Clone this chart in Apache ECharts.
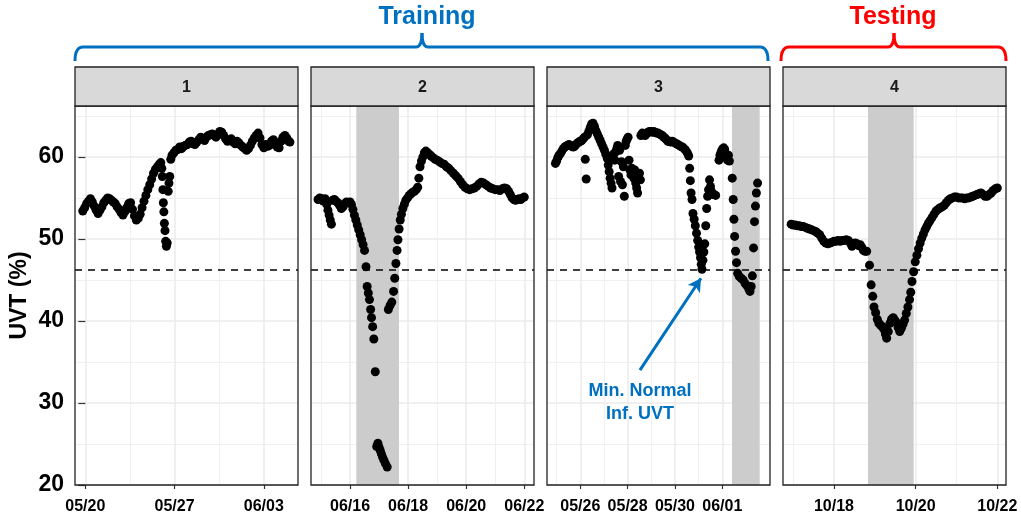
<!DOCTYPE html>
<html><head><meta charset="utf-8">
<script src="https://cdn.jsdelivr.net/npm/echarts@6/dist/echarts.min.js"></script>
<style>html,body{margin:0;padding:0;background:#fff}#c{width:1021px;height:517px}</style>
</head><body><div id="c"></div>
<script>
// ---------- data (x = days from the first labelled date of each panel, y = UVT %) ----------
const panelNames = ['1', '2', '3', '4'];
const groupNames = ['Training', 'Testing'];
const annotationText = 'Min. Normal\nInf. UVT';
const thresholdUVT = 46.2;
const yTicks = [20, 30, 40, 50, 60];
const yMinor = [25, 35, 45, 55, 65];

const p1Ticks = [0, 7, 14], p1Labels = ['05/20', '05/27', '06/03'], p1Minor = [3.5, 10.5];
const p2Ticks = [0, 2, 4, 6], p2Labels = ['06/16', '06/18', '06/20', '06/22'], p2Minor = [-1, 1, 3, 5];
const p3Ticks = [0, 2, 4, 6], p3Labels = ['05/26', '05/28', '05/30', '06/01'], p3Minor = [-1, 1, 3, 5, 7];
const p4Ticks = [0, 2, 4], p4Labels = ['10/18', '10/20', '10/22'], p4Minor = [-1, 1, 3];

const p2Shade = [0.217, 1.687];
const p3Shade = [6.41, 7.58];
const p4Shade = [0.833, 1.952];

const panel1 = [
[-0.20,53.4],[-0.05,53.8],[0.10,54.3],[0.25,54.6],[0.40,54.9],[0.55,54.5],[0.70,54.0],[0.85,53.5],[1.00,53.1],[1.15,53.5],
[1.30,53.9],[1.45,54.4],[1.60,54.7],[1.75,55.0],[1.90,54.9],[2.05,54.7],[2.20,54.5],[2.35,54.3],[2.50,53.9],[2.65,53.6],
[2.80,53.2],[2.95,52.9],[3.10,53.3],[3.25,53.8],[3.40,54.3],[3.55,54.4],[3.70,53.6],[3.85,52.8],[4.00,52.3],[4.15,52.5],
[4.30,53.0],[4.45,53.8],[4.60,54.6],[4.75,55.3],[4.90,56.0],[5.05,56.6],[5.20,57.3],[5.35,58.0],[5.50,58.5],[5.65,58.8],
[5.80,59.1],[5.92,59.3],[6.00,58.6],[6.04,57.6],[6.08,56.0],[6.12,54.4],[6.16,53.3],[6.20,51.9],[6.25,51.0],[6.30,49.7],
[6.36,49.1],[6.42,49.5],[6.50,55.8],[6.56,56.8],[6.62,57.6],[6.70,59.7],[6.80,60.2],[6.95,60.5],[7.10,60.8],[7.25,60.9],
[7.40,61.2],[7.55,61.0],[7.70,61.3],[7.85,61.4],[8.00,61.5],[8.15,61.8],[8.30,61.9],[8.45,61.6],[8.60,61.5],[8.75,61.8],
[8.90,62.1],[9.05,62.4],[9.20,62.2],[9.35,62.0],[9.50,62.4],[9.65,62.6],[9.80,62.7],[9.95,62.8],[10.10,62.6],[10.25,62.4],
[10.40,62.8],[10.55,63.1],[10.70,63.0],[10.85,62.6],[11.00,62.2],[11.15,61.9],[11.30,62.1],[11.45,62.2],[11.60,61.8],[11.75,61.6],
[11.90,61.9],[12.05,61.7],[12.20,61.4],[12.35,61.2],[12.50,61.0],[12.65,60.8],[12.80,61.0],[12.95,61.4],[13.10,61.9],[13.25,62.3],
[13.40,62.6],[13.55,62.9],[13.70,62.3],[13.85,61.5],[14.00,61.1],[14.15,61.5],[14.30,61.3],[14.45,61.4],[14.60,61.9],[14.75,62.1],
[14.90,61.7],[15.05,61.2],[15.20,61.1],[15.35,61.9],[15.50,62.4],[15.65,62.6],[15.80,62.3],[15.95,61.9],[16.05,61.8]
];

const panel2 = [
[-1.10,54.8],[-1.04,55.0],[-0.98,54.9],[-0.92,54.6],[-0.86,54.9],[-0.80,54.2],[-0.76,53.5],[-0.72,52.9],[-0.68,52.3],[-0.64,51.8],
[-0.60,54.7],[-0.54,54.8],[-0.48,54.6],[-0.42,54.4],[-0.36,54.1],[-0.30,53.7],[-0.24,53.9],[-0.18,54.3],[-0.12,54.5],[-0.06,54.4],
[0.00,54.5],[0.05,54.2],[0.10,53.6],[0.15,52.9],[0.20,52.3],[0.25,51.7],[0.30,51.1],[0.35,50.5],[0.40,49.9],[0.45,49.3],
[0.50,48.6],[0.55,46.6],[0.59,44.2],[0.63,43.4],[0.67,42.6],[0.71,41.4],[0.74,40.4],[0.78,39.3],[0.82,37.8],[0.87,33.8],
[0.92,24.7],[0.96,25.1],[1.00,24.6],[1.04,24.2],[1.08,23.8],[1.12,23.4],[1.17,23.0],[1.22,22.6],[1.28,22.2],[1.32,41.4],
[1.38,41.9],[1.44,42.3],[1.50,43.6],[1.54,45.2],[1.58,47.0],[1.62,48.6],[1.65,49.9],[1.69,51.2],[1.73,52.3],[1.77,53.0],
[1.82,53.7],[1.87,54.2],[1.92,54.7],[1.98,55.0],[2.04,55.3],[2.10,55.5],[2.16,55.7],[2.22,55.8],[2.28,56.0],[2.33,56.3],
[2.37,57.4],[2.41,58.8],[2.46,59.5],[2.51,60.0],[2.56,60.5],[2.61,60.7],[2.67,60.5],[2.73,60.3],[2.79,60.1],[2.86,59.9],
[2.93,59.7],[3.00,59.6],[3.08,59.4],[3.16,59.2],[3.24,59.1],[3.32,58.8],[3.40,58.6],[3.48,58.3],[3.56,58.0],[3.64,57.7],
[3.72,57.4],[3.80,57.0],[3.88,56.6],[3.96,56.3],[4.04,56.1],[4.12,56.0],[4.20,56.1],[4.28,56.2],[4.36,56.4],[4.44,56.7],
[4.52,56.9],[4.60,56.8],[4.68,56.6],[4.76,56.4],[4.84,56.2],[4.92,56.1],[5.00,56.0],[5.08,56.0],[5.16,55.9],[5.24,56.1],
[5.32,56.2],[5.40,56.1],[5.46,55.8],[5.52,55.4],[5.58,55.0],[5.64,54.8],[5.70,54.7],[5.76,54.8],[5.82,54.9],[5.88,54.8],
[5.94,55.0],[6.00,55.1]
];

const panel3 = [
[-1.05,59.2],[-1.00,59.5],[-0.95,59.9],[-0.90,60.2],[-0.84,60.4],[-0.78,60.7],[-0.72,61.0],[-0.66,61.2],[-0.60,61.3],[-0.54,61.4],
[-0.48,61.5],[-0.42,61.4],[-0.36,61.3],[-0.30,61.2],[-0.24,61.3],[-0.18,61.5],[-0.12,61.7],[-0.06,61.8],[0.00,61.9],[0.06,62.0],
[0.12,62.2],[0.18,62.4],[0.21,59.7],[0.25,57.3],[0.30,62.7],[0.36,63.1],[0.42,63.6],[0.48,64.0],[0.54,64.1],[0.60,63.7],
[0.66,63.2],[0.72,62.8],[0.78,62.4],[0.84,62.0],[0.90,61.6],[0.96,61.2],[1.02,60.8],[1.08,60.3],[1.14,59.8],[1.18,59.0],
[1.22,58.2],[1.26,57.4],[1.30,56.8],[1.34,56.2],[1.38,60.0],[1.42,60.4],[1.46,59.6],[1.50,60.6],[1.54,61.0],[1.58,61.4],
[1.62,57.6],[1.66,60.8],[1.70,57.0],[1.74,59.4],[1.78,56.6],[1.82,58.8],[1.86,55.2],[1.90,61.4],[1.94,61.9],[1.98,62.2],
[2.02,62.4],[2.06,59.6],[2.10,58.4],[2.14,57.8],[2.18,58.6],[2.22,58.0],[2.26,57.4],[2.30,58.4],[2.34,56.8],[2.38,56.2],
[2.42,55.6],[2.46,57.4],[2.50,58.0],[2.54,57.2],[2.56,62.6],[2.62,62.9],[2.68,62.8],[2.74,62.6],[2.80,62.8],[2.86,63.0],
[2.92,63.1],[2.98,63.1],[3.04,63.0],[3.10,63.1],[3.16,63.0],[3.22,62.9],[3.28,62.9],[3.34,62.8],[3.40,62.7],[3.46,62.6],
[3.52,62.4],[3.58,62.3],[3.64,62.1],[3.70,61.9],[3.76,61.9],[3.82,61.8],[3.88,61.9],[3.94,61.8],[4.00,61.7],[4.06,61.6],
[4.12,61.5],[4.18,61.4],[4.24,61.3],[4.30,61.2],[4.36,61.1],[4.42,60.9],[4.48,60.7],[4.54,60.4],[4.58,60.1],[4.62,58.6],
[4.65,57.1],[4.68,55.6],[4.72,54.8],[4.76,53.1],[4.81,52.4],[4.86,51.6],[4.91,50.7],[4.96,49.8],[5.00,49.0],[5.04,48.4],
[5.08,47.7],[5.11,46.9],[5.14,46.3],[5.18,47.4],[5.22,48.4],[5.26,49.4],[5.30,51.6],[5.34,53.7],[5.38,55.2],[5.42,56.0],
[5.46,57.2],[5.50,56.4],[5.54,55.8],[5.58,55.5],[5.62,55.4],[5.66,55.4],[5.72,55.3],[5.86,59.6],[5.90,60.2],[5.94,60.5],
[5.98,60.8],[6.02,61.0],[6.06,61.1],[6.10,60.9],[6.14,60.4],[6.18,59.9],[6.22,59.6],[6.26,60.2],[6.30,59.5],[6.42,57.4],
[6.46,54.8],[6.49,52.4],[6.52,50.3],[6.56,48.5],[6.60,47.1],[6.65,45.8],[6.72,45.4],[6.80,45.2],[6.88,45.0],[6.96,44.6],
[7.04,44.3],[7.12,43.9],[7.17,43.6],[7.22,44.2],[7.27,45.5],[7.32,48.9],[7.36,52.1],[7.40,54.0],[7.44,55.6],[7.49,56.8]
];

const panel4 = [
[-1.05,51.8],[-1.00,51.7],[-0.95,51.7],[-0.90,51.6],[-0.85,51.6],[-0.80,51.5],[-0.75,51.5],[-0.70,51.4],[-0.65,51.3],[-0.60,51.2],
[-0.55,51.1],[-0.50,51.0],[-0.45,50.9],[-0.40,50.7],[-0.35,50.5],[-0.30,50.1],[-0.25,49.7],[-0.20,49.5],[-0.15,49.4],[-0.10,49.5],
[-0.05,49.6],[0.00,49.7],[0.05,49.7],[0.10,49.8],[0.15,49.7],[0.20,49.8],[0.25,49.8],[0.30,49.9],[0.35,49.8],[0.40,49.5],
[0.44,49.1],[0.48,49.4],[0.52,49.5],[0.56,49.4],[0.60,49.2],[0.64,49.3],[0.68,49.0],[0.72,48.6],[0.76,48.5],[0.80,48.5],
[0.87,46.8],[0.91,44.4],[0.95,43.0],[0.98,41.7],[1.02,41.0],[1.06,40.2],[1.10,39.7],[1.14,39.5],[1.18,39.3],[1.22,39.0],
[1.26,38.4],[1.29,37.9],[1.33,38.7],[1.37,39.7],[1.41,40.2],[1.45,40.4],[1.49,40.1],[1.53,39.8],[1.57,39.2],[1.61,38.7],
[1.65,39.1],[1.69,39.6],[1.73,40.1],[1.77,40.9],[1.81,41.7],[1.85,42.6],[1.88,43.5],[1.91,44.8],[1.95,46.0],[1.99,47.2],
[2.03,48.0],[2.07,48.8],[2.11,49.5],[2.15,50.1],[2.19,50.6],[2.23,51.1],[2.27,51.5],[2.31,51.9],[2.35,52.2],[2.40,52.6],
[2.45,53.0],[2.50,53.4],[2.55,53.6],[2.60,53.8],[2.65,53.9],[2.70,54.1],[2.75,54.4],[2.80,54.7],[2.85,54.9],[2.90,55.0],
[2.95,55.1],[3.00,55.1],[3.05,55.0],[3.10,55.0],[3.15,55.0],[3.20,54.9],[3.25,55.0],[3.30,55.0],[3.35,55.1],[3.40,55.2],
[3.45,55.3],[3.50,55.4],[3.55,55.5],[3.60,55.6],[3.65,55.4],[3.70,55.2],[3.75,55.2],[3.80,55.4],[3.85,55.6],[3.90,55.9],
[3.95,56.1],[4.00,56.2]
];

// ---------- layout / style ----------
const FONT = '"Liberation Sans", Arial, sans-serif';
const BLUE = '#0070C0', RED = '#FF0000';
const panelLeft = [75, 311, 547, 783];
const panelTop = 106, panelW = 223, panelH = 379, stripTop = 67;
const xRange = [[-0.81, 16.68], [-1.343, 6.334], [-1.407, 8.015], [-1.249, 4.213]];
const yRange = [20, 66.2];

const panels = [
  {data: panel1, ticks: p1Ticks, labels: p1Labels, minor: p1Minor, shade: null},
  {data: panel2, ticks: p2Ticks, labels: p2Labels, minor: p2Minor, shade: p2Shade},
  {data: panel3, ticks: p3Ticks, labels: p3Labels, minor: p3Minor, shade: p3Shade},
  {data: panel4, ticks: p4Ticks, labels: p4Labels, minor: p4Minor, shade: p4Shade}
];

const grid = [], xAxis = [], yAxis = [], series = [], graphic = [];
const majorGrid = {show: true, lineStyle: {color: '#EBEBEB', width: 1.5}};
const minorGrid = {show: true, lineStyle: {color: '#F0F0F0', width: 1}};

panels.forEach((p, i) => {
  grid.push({left: panelLeft[i], top: panelTop, width: panelW, height: panelH, show: false});
  const labelOf = v => { const k = p.ticks.findIndex(t => Math.abs(t - v) < 1e-6); return k >= 0 ? p.labels[k] : ''; };
  xAxis.push({
    gridIndex: i, type: 'value', position: 'bottom', min: xRange[i][0], max: xRange[i][1],
    axisLine: {show: false},
    axisTick: {show: true, length: 4, customValues: p.ticks, lineStyle: {color: '#333', width: 1.2}},
    axisLabel: {customValues: p.ticks, formatter: labelOf, margin: 14, fontSize: 16, fontWeight: 'bold', color: '#000', fontFamily: FONT},
    splitLine: majorGrid
  });
  xAxis.push({
    gridIndex: i, type: 'value', position: 'top', min: xRange[i][0], max: xRange[i][1],
    axisLine: {show: false}, axisTick: {show: false, customValues: p.minor},
    axisLabel: {show: false, customValues: p.minor}, splitLine: minorGrid
  });
  yAxis.push({
    gridIndex: i, type: 'value', min: yRange[0], max: yRange[1], position: 'left',
    axisLine: {show: false},
    axisTick: {show: i === 0, length: 7, customValues: yTicks, lineStyle: {color: '#333', width: 1.2}},
    axisLabel: {show: i === 0, customValues: yTicks, margin: 11, fontSize: 23, fontWeight: 'bold', color: '#000', fontFamily: FONT},
    splitLine: majorGrid,
    name: i === 0 ? 'UVT (%)' : '', nameLocation: 'middle', nameGap: 44,
    nameTextStyle: {fontSize: 23, fontWeight: 'bold', color: '#000', fontFamily: FONT}
  });
  yAxis.push({
    gridIndex: i, type: 'value', min: yRange[0], max: yRange[1], position: 'right',
    axisLine: {show: false}, axisTick: {show: false, customValues: yMinor},
    axisLabel: {show: false, customValues: yMinor}, splitLine: minorGrid
  });
  const xi = 2 * i, yi = 2 * i;
  if (p.shade) {
    series.push({type: 'line', xAxisIndex: xi, yAxisIndex: yi, data: [], z: 1, silent: true,
      markArea: {silent: true, itemStyle: {color: '#CCCCCC', opacity: 1},
        data: [[{xAxis: p.shade[0]}, {xAxis: p.shade[1]}]]}});
  }
  series.push({type: 'line', xAxisIndex: xi, yAxisIndex: yi, data: [], z: 2, silent: true,
    markLine: {silent: true, symbol: ['none', 'none'], label: {show: false},
      lineStyle: {color: '#000', type: [7, 6], width: 1.6}, data: [{yAxis: thresholdUVT}]}});
  series.push({type: 'scatter', xAxisIndex: xi, yAxisIndex: yi, data: p.data, z: 3,
    symbolSize: 9, itemStyle: {color: '#000', borderWidth: 0, opacity: 1}});

  // panel border and strip
  graphic.push({type: 'rect', z: 100, silent: true,
    shape: {x: panelLeft[i], y: panelTop, width: panelW, height: panelH},
    style: {fill: null, stroke: '#222', lineWidth: 1.3}});
  graphic.push({type: 'rect', z: 100, silent: true,
    shape: {x: panelLeft[i], y: stripTop, width: panelW, height: panelTop - stripTop},
    style: {fill: '#D9D9D9', stroke: '#222', lineWidth: 1.3}});
  graphic.push({type: 'text', z: 101, silent: true, x: panelLeft[i] + panelW / 2, y: (stripTop + panelTop) / 2 + 1,
    style: {text: panelNames[i], font: 'bold 16px ' + FONT, fill: '#1A1A1A', align: 'center', verticalAlign: 'middle'}});
});

// annotation arrow (data coordinates of panel 3)
series.push({type: 'line', xAxisIndex: 4, yAxisIndex: 4, data: [], z: 4, silent: true,
  markLine: {silent: true, symbol: ['none', 'arrow'], symbolSize: [11, 13], label: {show: false},
    lineStyle: {color: BLUE, width: 3, type: 'solid'},
    data: [[{coord: [2.52, 34.0]}, {coord: [5.10, 45.2]}]]}});

graphic.push({type: 'text', z: 101, silent: true, x: 640, y: 403,
  style: {text: annotationText, font: 'bold 18px ' + FONT, fill: BLUE, align: 'center', verticalAlign: 'middle', lineHeight: 23}});

// group brackets built from lines and quadratic curves
function bracket(x0, x1, xc, color) {
  const yb = 61, yh = 47, yp = 33, r = 8, c = 6;
  const st = {stroke: color, lineWidth: 3, fill: null};
  const seg = (s) => ({type: 'bezierCurve', silent: true, shape: s, style: st});
  const ln = (a, b, cc, d) => ({type: 'line', silent: true, shape: {x1: a, y1: b, x2: cc, y2: d}, style: st});
  return {type: 'group', z: 101, silent: true, children: [
    seg({x1: x0, y1: yb, cpx1: x0, cpy1: yh, x2: x0 + r, y2: yh}),
    ln(x0 + r, yh, xc - c, yh),
    seg({x1: xc - c, y1: yh, cpx1: xc, cpy1: yh, x2: xc, y2: yp}),
    seg({x1: xc, y1: yp, cpx1: xc, cpy1: yh, x2: xc + c, y2: yh}),
    ln(xc + c, yh, x1 - r, yh),
    seg({x1: x1 - r, y1: yh, cpx1: x1, cpy1: yh, x2: x1, y2: yb})
  ]};
}
graphic.push(bracket(75, 768, 422, BLUE));
graphic.push(bracket(781, 1006, 894, RED));
graphic.push({type: 'text', z: 101, silent: true, x: 427, y: 17,
  style: {text: groupNames[0], font: 'bold 25px ' + FONT, fill: BLUE, align: 'center', verticalAlign: 'middle'}});
graphic.push({type: 'text', z: 101, silent: true, x: 893, y: 17,
  style: {text: groupNames[1], font: 'bold 25px ' + FONT, fill: RED, align: 'center', verticalAlign: 'middle'}});

const chart = echarts.init(document.getElementById('c'), null, {renderer: 'canvas'});
chart.setOption({animation: false, backgroundColor: '#fff', grid, xAxis, yAxis, series, graphic});
</script></body></html>
